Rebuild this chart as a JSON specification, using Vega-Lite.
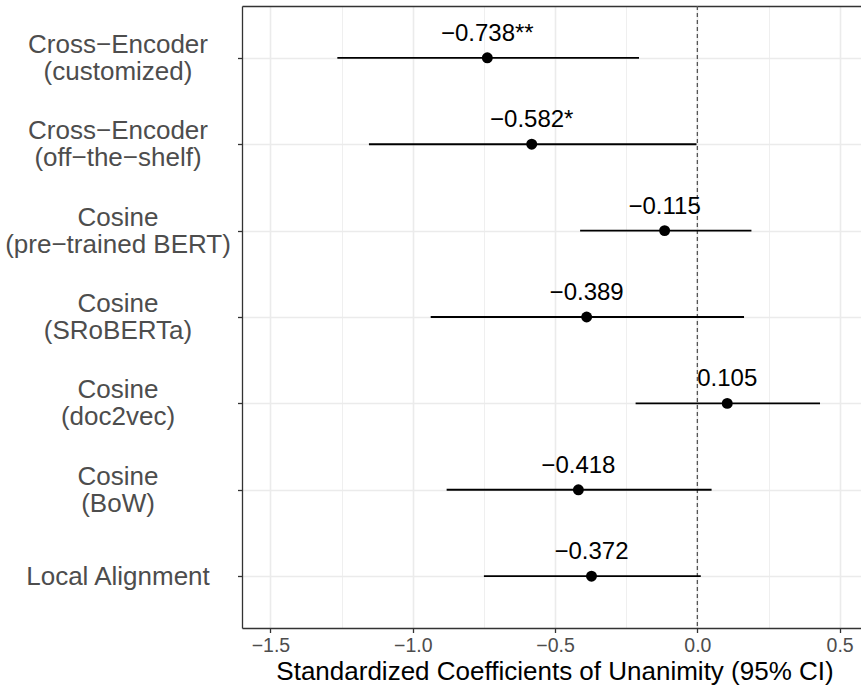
{
  "$schema": "https://vega.github.io/schema/vega-lite/v6.json",
  "autosize": {"type": "none"},
  "padding": {"left": 242, "top": 6, "right": 0, "bottom": 60},
  "width": 619,
  "height": 622,
  "background": "white",
  "config": {
    "view": {"stroke": null},
    "font": "Liberation Sans"
  },
  "datasets": {
    "coefs": [
      {"model": "Cross−Encoder\n(customized)", "est": -0.738, "lo": -1.265, "hi": -0.205, "label": "−0.738**"},
      {"model": "Cross−Encoder\n(off−the−shelf)", "est": -0.582, "lo": -1.154, "hi": -0.003, "label": "−0.582*"},
      {"model": "Cosine\n(pre−trained BERT)", "est": -0.115, "lo": -0.412, "hi": 0.19, "label": "−0.115"},
      {"model": "Cosine\n(SRoBERTa)", "est": -0.389, "lo": -0.937, "hi": 0.164, "label": "−0.389"},
      {"model": "Cosine\n(doc2vec)", "est": 0.105, "lo": -0.217, "hi": 0.431, "label": "0.105"},
      {"model": "Cosine\n(BoW)", "est": -0.418, "lo": -0.881, "hi": 0.05, "label": "−0.418"},
      {"model": "Local Alignment", "est": -0.372, "lo": -0.75, "hi": 0.012, "label": "−0.372"}
    ],
    "refline": [{"ref": 0}]
  },
  "layer": [
    {
      "data": {"name": "refline"},
      "mark": {"type": "rule", "color": "#555555", "strokeWidth": 1.3, "strokeDash": [4, 3]},
      "encoding": {
        "x": {"field": "ref", "type": "quantitative", "axis": null,
              "scale": {"domain": [-1.6, 0.575], "nice": false, "zero": false}}
      }
    },
    {
      "data": {"name": "coefs"},
      "mark": {"type": "rule", "color": "black", "strokeWidth": 1.9},
      "encoding": {
        "y": {"field": "model", "type": "nominal", "sort": null,
              "scale": {"type": "point", "padding": 0.6},
              "axis": {"title": null, "labelExpr": "split(datum.label, '\\n')",
                       "labelFont": "Liberation Sans", "labelFontSize": 26, "labelColor": "#4D4D4D",
                       "labelAlign": "center", "labelBaseline": "middle", "labelPadding": 120,
                       "labelLimit": 0, "labelLineHeight": 27,
                       "labelOffset": {"condition": {"test": "indexof(datum.value, '\\n') >= 0", "value": -13.5}, "value": 0},
                       "tickSize": 4.5, "tickColor": "#333333", "tickWidth": 1.3,
                       "domain": true, "domainColor": "#333333", "domainWidth": 1.3,
                       "grid": true, "gridColor": "#EBEBEB", "gridWidth": 1.6}},
        "x": {"field": "lo", "type": "quantitative",
              "scale": {"domain": [-1.6, 0.575], "nice": false, "zero": false},
              "axis": {"orient": "top", "values": [-1.25, -0.75, -0.25, 0.25],
                       "labels": false, "ticks": false, "title": null,
                       "domain": true, "domainColor": "#333333", "domainWidth": 1.3,
                       "grid": true, "gridColor": "#EBEBEB", "gridWidth": 0.8}},
        "x2": {"field": "hi"}
      }
    },
    {
      "data": {"name": "coefs"},
      "mark": {"type": "point", "filled": true, "color": "black", "size": 120, "opacity": 1},
      "encoding": {
        "y": {"field": "model", "type": "nominal", "sort": null,
              "scale": {"type": "point", "padding": 0.6},
              "axis": {"title": null, "labelExpr": "split(datum.label, '\\n')",
                       "labelFont": "Liberation Sans", "labelFontSize": 26, "labelColor": "#4D4D4D",
                       "labelAlign": "center", "labelBaseline": "middle", "labelPadding": 120,
                       "labelLimit": 0, "labelLineHeight": 27,
                       "labelOffset": {"condition": {"test": "indexof(datum.value, '\\n') >= 0", "value": -13.5}, "value": 0},
                       "tickSize": 4.5, "tickColor": "#333333", "tickWidth": 1.3,
                       "domain": true, "domainColor": "#333333", "domainWidth": 1.3,
                       "grid": true, "gridColor": "#EBEBEB", "gridWidth": 1.6}},
        "x": {"field": "est", "type": "quantitative",
              "scale": {"domain": [-1.6, 0.575], "nice": false, "zero": false},
              "axis": {"orient": "bottom", "values": [-1.5, -1, -0.5, 0, 0.5], "format": ".1f",
                       "labelFont": "Liberation Sans", "labelFontSize": 19.5, "labelColor": "#4D4D4D",
                       "labelPadding": 3.5, "labelFlush": false, "labelOverlap": false,
                       "tickSize": 4.5, "tickColor": "#333333", "tickWidth": 1.3,
                       "domain": true, "domainColor": "#333333", "domainWidth": 1.3,
                       "grid": true, "gridColor": "#EBEBEB", "gridWidth": 1.6,
                       "title": "Standardized Coefficients of Unanimity (95% CI)",
                       "titleFont": "Liberation Sans", "titleFontSize": 26, "titleFontWeight": "normal",
                       "titleColor": "black", "titleBaseline": "alphabetic", "titleY": 51, "titleX": 312.5}}
      }
    },
    {
      "data": {"name": "coefs"},
      "mark": {"type": "text", "color": "black", "font": "Liberation Sans", "fontSize": 24,
               "baseline": "alphabetic", "align": "center", "dy": -17},
      "encoding": {
        "y": {"field": "model", "type": "nominal", "sort": null,
              "scale": {"type": "point", "padding": 0.6},
              "axis": {"title": null, "labelExpr": "split(datum.label, '\\n')",
                       "labelFont": "Liberation Sans", "labelFontSize": 26, "labelColor": "#4D4D4D",
                       "labelAlign": "center", "labelBaseline": "middle", "labelPadding": 120,
                       "labelLimit": 0, "labelLineHeight": 27,
                       "labelOffset": {"condition": {"test": "indexof(datum.value, '\\n') >= 0", "value": -13.5}, "value": 0},
                       "tickSize": 4.5, "tickColor": "#333333", "tickWidth": 1.3,
                       "domain": true, "domainColor": "#333333", "domainWidth": 1.3,
                       "grid": true, "gridColor": "#EBEBEB", "gridWidth": 1.6}},
        "x": {"field": "est", "type": "quantitative", "axis": null,
              "scale": {"domain": [-1.6, 0.575], "nice": false, "zero": false}},
        "text": {"field": "label", "type": "nominal"}
      }
    }
  ],
  "resolve": {"axis": {"x": "independent"}}
}
